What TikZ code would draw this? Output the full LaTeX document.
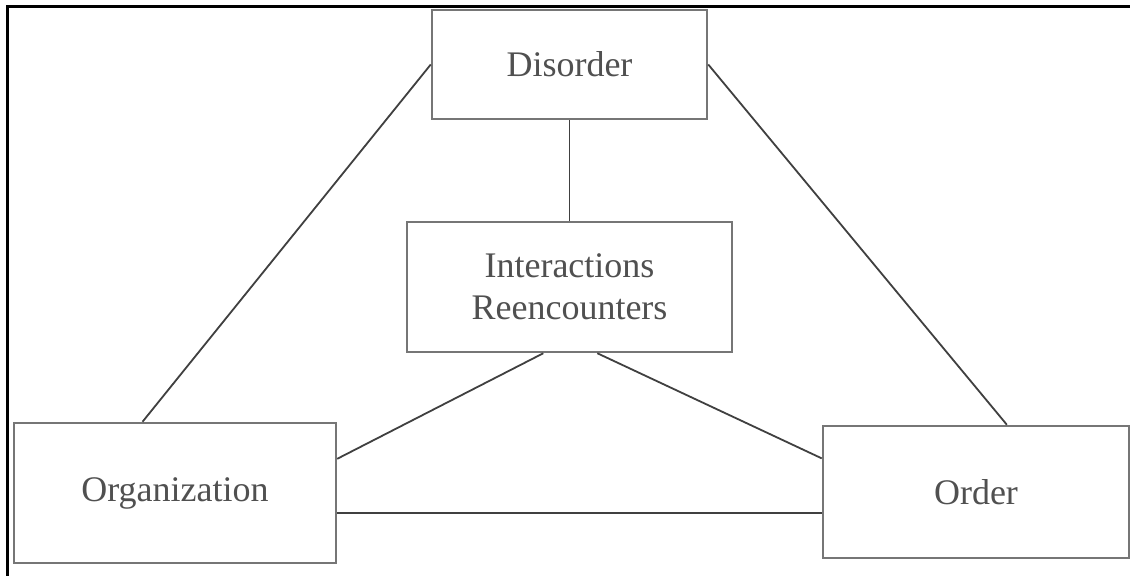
\documentclass[tikz,border=0pt]{standalone}
\usepackage{fontspec}
\setmainfont{Liberation Serif}
\usetikzlibrary{calc}
\definecolor{boxgray}{HTML}{767676}
\definecolor{linegray}{HTML}{404040}
\definecolor{textgray}{HTML}{505050}
\begin{document}
\begin{tikzpicture}[x=0.5pt,y=-0.5pt,
  box/.style={draw=boxgray, line width=1.25pt, rectangle, inner sep=0pt,
    font=\fontsize{18}{21}\selectfont, text=textgray, align=center},
  link/.style={draw=linegray, line width=0.9pt}]
\useasboundingbox (0,0) rectangle (1130,576);
\fill[white] (0,0) rectangle (1130,576);
% outer frame (top and left edges)
\draw[black, line width=1.5pt] (7,576) -- (7,7) -- (1130,7);
% boxes
\node[box, minimum width=137.5pt, minimum height=54.5pt] (dis) at (569.5,64.5) {Disorder};
\node[box, minimum width=162.5pt, minimum height=65pt] (int) at (569.5,287) {Interactions\\Reencounters};
\node[box, minimum width=161pt, minimum height=70pt] (org) at (175,493) {Organization};
\node[box, minimum width=153pt, minimum height=66pt] (ord) at (976,492) {Order};
% connectors
\coordinate (orgT) at ($(org.north west)!0.40!(org.north east)$);
\coordinate (ordT) at ($(ord.north west)!0.60!(ord.north east)$);
\coordinate (intL) at ($(int.south west)!0.42!(int.south east)$);
\coordinate (intR) at ($(int.south west)!0.585!(int.south east)$);
\coordinate (orgR) at ($(org.north east)!0.26!(org.south east)$);
\coordinate (ordL) at ($(ord.north west)!0.25!(ord.south west)$);
\coordinate (orgB) at ($(org.north east)!0.64!(org.south east)$);
\draw[link] (orgT) -- (dis.west);
\draw[link] (dis.east) -- (ordT);
\draw[link] (dis.south) -- (int.north);
\draw[link] (intL) -- (orgR);
\draw[link] (intR) -- (ordL);
\draw[link] (orgB) -- (orgB -| ord.west);
\end{tikzpicture}
\end{document}
